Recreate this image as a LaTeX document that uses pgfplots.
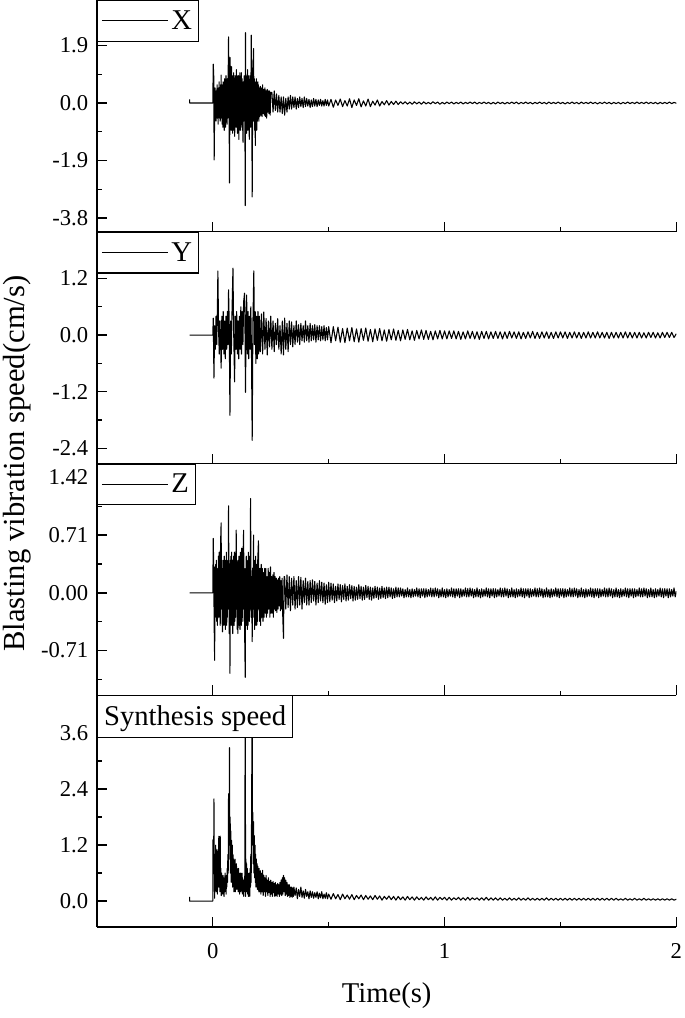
\documentclass[border=0pt]{standalone}
\usepackage{fontspec}
\setmainfont{Liberation Serif}
\usepackage{pgfplots}
\pgfplotsset{compat=1.18}

\pgfplotsset{
  panel/.style={
    width=435pt, height=174pt, scale only axis,
    xmin=-0.5, xmax=2,
    axis x line*=bottom, axis y line*=left,
    axis line style={-, line width=1pt},
    tick align=inside,
    major tick length=7.5pt, minor tick length=3.5pt,
    every tick/.append style={black, line width=1pt},
    xtick={0,1,2}, minor xtick={0.5,1.5}, xticklabels={},
    tick label style={font=\fontsize{17}{20}\selectfont},
    yticklabel style={xshift=-3pt},
    xticklabel style={yshift=-9pt},
    legend style={at={(0,1)}, anchor=north west, draw=black, line width=0.8pt,
      fill=white, font=\fontsize{21.5}{24}\selectfont, inner xsep=3pt, inner ysep=5.5pt},
    legend image code/.code={\draw[line width=0.6pt] (0pt,0pt) -- (50pt,0pt);},
  },
  sig/.style={black, line width=0.8pt, line join=round},
}

\begin{document}
\begin{tikzpicture}

% X
\begin{axis}[panel, name=p1, at={(0,522pt)},
  ymin=-4.25, ymax=3.4,
  ytick={-3.8,-1.9,0,1.9}, yticklabels={-3.8,-1.9,0.0,1.9},
  minor ytick={-2.85,-0.95,0.95,2.85}]
\addplot[sig] coordinates {
(-0.1,0.12)(-0.1,0)(0,0)(0.002,1.28)(0.004,0.9)(0.006,-1.88)(0.008,-0.3)
(0.0095,0.5)(0.011,-0.4)(0.0125,0.3)(0.014,-0.6)(0.0155,0.4)(0.017,-0.3)(0.0185,0.6)(0.020,-0.5)(0.0215,0.4)(0.023,-0.7)
(0.0245,0.5)(0.026,-0.3)(0.0275,0.7)(0.029,-0.5)(0.0305,0.4)(0.032,-0.6)(0.0335,0.6)(0.035,-0.4)(0.036,0.92)(0.0375,-0.5)
(0.039,0.6)(0.0405,-0.7)(0.042,0.5)(0.0435,-0.8)(0.045,0.7)(0.0465,-0.6)(0.048,0.5)(0.0495,-0.9)(0.051,0.8)(0.0525,-0.5)
(0.054,0.7)(0.0555,-0.8)(0.057,0.9)(0.0585,-0.6)(0.060,0.6)(0.0615,-0.7)(0.063,0.8)(0.0645,-0.5)(0.066,0.6)(0.068,2.18)
(0.070,0.4)(0.072,-2.64)(0.0735,-0.3)(0.075,1.5)(0.0765,-0.8)(0.078,1.0)(0.0795,-0.9)(0.081,1.2)(0.0825,-0.7)(0.084,0.9)
(0.0855,-1.0)(0.087,0.8)(0.0885,-0.7)(0.090,1.0)(0.0915,-0.9)(0.093,0.7)(0.0945,-1.1)(0.096,0.9)(0.0975,-0.6)(0.099,0.8)
(0.1005,-0.8)(0.102,1.1)(0.1035,-0.7)(0.105,0.9)(0.1065,-1.0)(0.108,0.7)(0.1095,-0.6)(0.111,0.9)(0.1125,-1.2)(0.114,0.8)
(0.1155,-0.7)(0.117,1.0)(0.1185,-0.9)(0.120,0.7)(0.1215,-0.8)(0.123,1.0)(0.1245,-0.5)(0.126,0.8)(0.1275,-0.9)(0.129,0.6)
(0.1305,-1.3)(0.132,0.7)(0.1335,-0.6)(0.135,0.9)(0.1365,-0.5)(0.138,0.6)(0.140,-3.39)(0.141,2.32)(0.1425,-0.4)(0.144,0.9)
(0.1455,-1.0)(0.147,0.8)(0.1485,-0.7)(0.150,1.1)(0.1515,-0.9)(0.153,0.6)(0.1545,-0.8)(0.156,0.9)(0.1575,-1.2)(0.159,0.7)
(0.1605,-0.6)(0.162,0.9)(0.1635,-0.8)(0.166,2.24)(0.168,0.3)(0.170,-3.10)(0.1715,-0.5)(0.173,1.0)(0.176,1.80)(0.1775,-0.6)
(0.179,0.8)(0.1805,-0.9)(0.182,0.7)(0.1835,-1.4)(0.185,0.6)(0.1865,-0.7)(0.188,0.8)(0.1895,-0.9)(0.191,0.6)(0.1925,-0.6)
(0.194,0.7)(0.1955,-0.5)(0.197,0.6)(0.1985,-0.6)(0.200,0.5)
(0.2025,-0.45)(0.205,0.55)(0.2075,-0.4)(0.210,0.5)(0.2125,-0.45)(0.215,0.6)(0.2175,-0.35)(0.220,0.45)(0.2225,-0.4)(0.225,0.5)
(0.2275,-0.45)(0.230,0.4)(0.2325,-0.5)(0.235,0.45)(0.2375,-0.3)(0.240,0.4)(0.2425,-0.35)(0.245,0.4)(0.2475,-0.4)(0.250,0.35)
(0.255,0.35)(0.260,-0.3)(0.265,0.4)(0.270,-0.25)(0.275,0.3)(0.280,-0.3)(0.285,0.25)(0.290,-0.3)(0.295,0.2)(0.300,-0.35)
(0.305,0.2)(0.310,-0.4)(0.315,0.15)(0.320,-0.3)(0.325,0.2)(0.330,-0.2)(0.335,0.25)(0.340,-0.2)(0.345,0.2)(0.350,-0.15)
(0.355,0.2)(0.360,-0.2)(0.365,0.15)(0.370,-0.15)(0.375,0.2)(0.380,-0.12)(0.385,0.15)(0.390,-0.15)(0.395,0.2)(0.400,-0.12)
(0.405,0.15)(0.410,-0.1)(0.415,0.12)(0.420,-0.15)(0.425,0.1)(0.430,-0.12)(0.435,0.15)(0.440,-0.1)(0.445,0.12)(0.450,-0.12)
(0.455,0.1)(0.460,-0.08)(0.465,0.12)(0.470,-0.1)(0.475,0.08)(0.480,-0.1)(0.485,0.12)(0.490,-0.08)(0.495,0.1)(0.500,-0.1)
(0.51,0.12)(0.52,-0.14)(0.53,0.1)(0.54,-0.08)(0.55,0.13)(0.56,-0.12)(0.57,0.08)(0.58,-0.1)(0.59,0.14)(0.60,-0.15)
(0.61,0.1)(0.62,-0.08)(0.63,0.14)(0.64,-0.13)(0.65,0.07)(0.66,-0.1)(0.67,0.13)(0.68,-0.12)(0.69,0.06)(0.70,-0.07)
(0.71,0.1)(0.72,-0.1)(0.73,0.05)(0.74,-0.06)(0.75,0.08)(0.76,-0.07)(0.77,0.05)(0.78,-0.05)(0.79,0.06)(0.80,-0.05)
(0.81,0.04)(0.82,-0.03)(0.83,0.04)(0.84,-0.04)(0.85,0.03)(0.86,-0.04)(0.87,0.04)(0.88,-0.03)(0.89,0.03)(0.90,-0.04)
(0.91,0.04)(0.92,-0.03)(0.93,0.02)(0.94,-0.03)(0.95,0.04)(0.96,-0.02)(0.97,0.03)(0.98,-0.04)(0.99,0.02)(1.00,-0.03)
(1.01,0.03)(1.02,-0.02)(1.03,0.03)(1.04,-0.03)(1.05,0.02)(1.06,-0.02)(1.07,0.03)(1.08,-0.03)(1.09,0.02)(1.10,-0.02)
(1.11,0.03)(1.12,-0.02)(1.13,0.03)(1.14,-0.03)(1.15,0.02)(1.16,-0.02)(1.17,0.03)(1.18,-0.02)(1.19,0.02)(1.20,-0.03)
(1.21,0.02)(1.22,-0.03)(1.23,0.03)(1.24,-0.02)(1.25,0.02)(1.26,-0.03)(1.27,0.02)(1.28,-0.02)(1.29,0.03)(1.30,-0.02)
(1.31,0.03)(1.32,-0.03)(1.33,0.02)(1.34,-0.02)(1.35,0.03)(1.36,-0.02)(1.37,0.02)(1.38,-0.03)(1.39,0.02)(1.40,-0.02)
(1.41,0.03)(1.42,-0.02)(1.43,0.02)(1.44,-0.03)(1.45,0.03)(1.46,-0.02)(1.47,0.02)(1.48,-0.02)(1.49,0.03)(1.50,-0.02)
(1.51,0.02)(1.52,-0.03)(1.53,0.02)(1.54,-0.02)(1.55,0.03)(1.56,-0.02)(1.57,0.02)(1.58,-0.03)(1.59,0.03)(1.60,-0.02)
(1.61,0.02)(1.62,-0.02)(1.63,0.03)(1.64,-0.02)(1.65,0.02)(1.66,-0.03)(1.67,0.02)(1.68,-0.02)(1.69,0.03)(1.70,-0.02)
(1.71,0.02)(1.72,-0.03)(1.73,0.02)(1.74,-0.02)(1.75,0.02)(1.76,-0.03)(1.77,0.02)(1.78,-0.02)(1.79,0.03)(1.80,-0.02)
(1.81,0.02)(1.82,-0.02)(1.83,0.03)(1.84,-0.02)(1.85,0.02)(1.86,-0.02)(1.87,0.03)(1.88,-0.02)(1.89,0.02)(1.90,-0.02)
(1.91,0.02)(1.92,-0.03)(1.93,0.02)(1.94,-0.02)(1.95,0.02)(1.96,-0.02)(1.97,0.03)(1.98,-0.02)(1.99,0.02)(2.00,-0.01)
};
\addlegendentry{X}
\end{axis}

% Y
\begin{axis}[panel, name=p2, at={(0,348pt)},
  ymin=-2.72, ymax=2.19,
  ytick={-2.4,-1.2,0,1.2}, yticklabels={-2.4,-1.2,0.0,1.2},
  minor ytick={-1.8,-0.6,0.6,1.8}]
\addplot[sig] coordinates {
(-0.1,0)(0,0)(0.002,0.36)(0.005,-0.91)(0.008,0.2)(0.011,-0.3)(0.014,0.4)(0.017,-0.2)(0.020,0.6)(0.022,1.36)
(0.025,0.1)(0.028,-0.4)(0.031,0.3)(0.034,-0.2)(0.036,-0.70)(0.039,0.4)(0.042,-0.3)(0.045,0.5)(0.048,-0.4)(0.051,0.3)
(0.054,-0.5)(0.057,0.4)(0.060,-0.3)(0.063,0.5)(0.066,-0.2)(0.068,0.96)(0.071,0.2)(0.074,-1.70)(0.077,0.3)(0.080,-0.4)
(0.083,0.5)(0.087,1.42)(0.090,0.1)(0.094,-0.99)(0.097,0.4)(0.100,-0.3)(0.103,0.5)(0.106,-0.4)(0.109,0.3)(0.112,-0.5)
(0.115,0.4)(0.118,-0.3)(0.121,0.6)(0.124,-0.4)(0.127,0.5)(0.130,-0.2)(0.133,0.7)(0.137,0.89)(0.139,0.1)(0.141,-1.21)
(0.144,0.3)(0.146,0.85)(0.149,-0.4)(0.152,0.5)(0.155,-0.5)(0.158,0.4)(0.161,-0.3)(0.164,0.6)(0.167,-0.4)(0.170,-2.23)
(0.173,0.2)(0.177,1.36)(0.180,-0.2)(0.183,0.5)(0.186,-0.6)(0.189,0.4)(0.192,-0.5)(0.195,0.5)(0.198,-0.4)(0.201,0.4)
(0.205,-0.35)(0.210,0.45)(0.215,-0.4)(0.220,0.49)(0.225,-0.3)(0.230,0.35)(0.235,-0.42)(0.240,0.3)(0.245,-0.25)(0.250,0.4)
(0.255,-0.3)(0.260,0.3)(0.265,-0.35)(0.270,0.25)(0.275,-0.2)(0.280,0.35)(0.285,-0.3)(0.290,0.2)(0.295,-0.4)(0.300,0.3)
(0.305,-0.42)(0.310,0.36)(0.315,-0.3)(0.320,0.25)(0.325,-0.35)(0.330,0.3)(0.335,-0.2)(0.340,0.28)(0.345,-0.25)(0.350,0.2)
(0.355,-0.2)(0.360,0.3)(0.365,-0.15)(0.370,0.22)(0.375,-0.2)(0.380,0.25)(0.385,-0.12)(0.390,0.2)(0.395,-0.15)(0.400,0.3)
(0.405,-0.12)(0.410,0.2)(0.415,-0.15)(0.420,0.25)(0.425,-0.12)(0.430,0.2)(0.435,-0.1)(0.440,0.22)(0.445,-0.15)(0.450,0.2)
(0.455,-0.1)(0.460,0.2)(0.465,-0.12)(0.470,0.18)(0.475,-0.1)(0.480,0.2)(0.485,-0.12)(0.490,0.16)(0.495,-0.1)(0.500,0.18)
(0.51,-0.16)(0.52,0.18)(0.53,-0.12)(0.54,0.17)(0.55,-0.15)(0.56,0.14)(0.57,-0.16)(0.58,0.15)(0.59,-0.12)(0.60,0.16)
(0.61,-0.14)(0.62,0.13)(0.63,-0.15)(0.64,0.14)(0.65,-0.11)(0.66,0.15)(0.67,-0.13)(0.68,0.12)(0.69,-0.14)(0.70,0.13)
(0.71,-0.11)(0.72,0.14)(0.73,-0.12)(0.74,0.11)(0.75,-0.13)(0.76,0.12)(0.77,-0.10)(0.78,0.13)(0.79,-0.11)(0.80,0.10)
(0.81,-0.12)(0.82,0.11)(0.83,-0.09)(0.84,0.12)(0.85,-0.10)(0.86,0.09)(0.87,-0.11)(0.88,0.10)(0.89,-0.08)(0.90,0.11)
(0.91,-0.09)(0.92,0.10)(0.93,-0.09)(0.94,0.08)(0.95,-0.10)(0.96,0.09)(0.97,-0.08)(0.98,0.10)(0.99,-0.08)(1.00,0.09)
(1.01,-0.08)(1.02,0.09)(1.03,-0.07)(1.04,0.09)(1.05,-0.08)(1.06,0.08)(1.07,-0.09)(1.08,0.07)(1.09,-0.08)(1.10,0.09)
(1.11,-0.07)(1.12,0.08)(1.13,-0.08)(1.14,0.07)(1.15,-0.09)(1.16,0.08)(1.17,-0.07)(1.18,0.08)(1.19,-0.08)(1.20,0.07)
(1.21,-0.07)(1.22,0.08)(1.23,-0.07)(1.24,0.07)(1.25,-0.08)(1.26,0.07)(1.27,-0.07)(1.28,0.08)(1.29,-0.06)(1.30,0.07)
(1.31,-0.07)(1.32,0.07)(1.33,-0.08)(1.34,0.06)(1.35,-0.07)(1.36,0.07)(1.37,-0.06)(1.38,0.08)(1.39,-0.07)(1.40,0.06)
(1.41,-0.07)(1.42,0.07)(1.43,-0.06)(1.44,0.07)(1.45,-0.07)(1.46,0.06)(1.47,-0.07)(1.48,0.07)(1.49,-0.06)(1.50,0.07)
(1.51,-0.06)(1.52,0.07)(1.53,-0.07)(1.54,0.06)(1.55,-0.06)(1.56,0.07)(1.57,-0.06)(1.58,0.06)(1.59,-0.07)(1.60,0.06)
(1.61,-0.06)(1.62,0.07)(1.63,-0.06)(1.64,0.06)(1.65,-0.06)(1.66,0.07)(1.67,-0.06)(1.68,0.06)(1.69,-0.06)(1.70,0.06)
(1.71,-0.07)(1.72,0.06)(1.73,-0.06)(1.74,0.06)(1.75,-0.06)(1.76,0.06)(1.77,-0.06)(1.78,0.07)(1.79,-0.06)(1.80,0.06)
(1.81,-0.06)(1.82,0.06)(1.83,-0.06)(1.84,0.06)(1.85,-0.06)(1.86,0.05)(1.87,-0.06)(1.88,0.06)(1.89,-0.05)(1.90,0.06)
(1.91,-0.06)(1.92,0.05)(1.93,-0.06)(1.94,0.06)(1.95,-0.05)(1.96,0.06)(1.97,-0.05)(1.98,0.06)(1.99,-0.05)(2.00,0.03)
};
\addlegendentry{Y}
\end{axis}

% Z
\begin{axis}[panel, name=p3, at={(0,174pt)},
  ymin=-1.26, ymax=1.59,
  ytick={-0.71,0,0.71,1.42}, yticklabels={-0.71,0.00,0.71,1.42},
  minor ytick={-1.065,-0.355,0.355,1.065}]
\addplot[sig] coordinates {
(-0.1,0)(0,0)(0.002,0.67)(0.004,0.3)(0.006,-0.4)(0.008,-0.83)(0.0095,0.32)
(0.011,-0.3)(0.0125,0.35)(0.014,-0.2)(0.0155,0.4)(0.017,-0.35)(0.0185,0.25)(0.020,-0.4)(0.0215,0.3)(0.023,-0.25)(0.0245,0.45)
(0.026,-0.3)(0.0275,0.5)(0.029,-0.2)(0.0305,0.35)(0.032,-0.4)(0.0335,0.6)(0.036,0.86)(0.0375,-0.2)(0.039,0.3)(0.0405,-0.35)
(0.042,-0.48)(0.0435,0.4)(0.045,-0.3)(0.0465,0.35)(0.048,-0.4)(0.0495,0.45)(0.051,-0.3)(0.0525,0.3)(0.054,-0.45)(0.0555,0.4)
(0.057,-0.3)(0.0585,0.5)(0.060,-0.4)(0.0615,0.35)(0.063,-0.3)(0.0645,0.4)(0.066,-0.2)(0.068,1.07)(0.0695,0.1)(0.071,-0.5)
(0.0725,0.3)(0.074,-0.99)(0.0755,0.4)(0.077,-0.3)(0.0785,0.45)(0.080,-0.4)(0.0815,0.5)(0.083,-0.35)(0.0845,0.4)(0.086,-0.5)
(0.0875,0.35)(0.089,-0.3)(0.0905,0.45)(0.092,-0.4)(0.0935,0.5)(0.095,-0.35)(0.0965,0.4)(0.098,-0.3)(0.101,0.77)(0.1025,-0.2)
(0.104,0.4)(0.1055,-0.45)(0.107,0.35)(0.1085,-0.5)(0.110,0.4)(0.1115,-0.35)(0.113,0.45)(0.1145,-0.4)(0.116,0.3)(0.1175,-0.45)
(0.119,0.5)(0.1205,-0.3)(0.122,0.4)(0.1235,-0.4)(0.125,0.55)(0.1265,-0.3)(0.128,0.4)(0.1295,-0.35)(0.131,0.5)(0.133,0.77)
(0.1345,-0.2)(0.136,0.3)(0.1375,-0.5)(0.140,-1.04)(0.1415,0.3)(0.143,-0.3)(0.1445,0.45)(0.146,-0.4)(0.1475,0.4)(0.149,-0.45)
(0.1505,0.35)(0.152,-0.4)(0.1535,0.5)(0.155,-0.3)(0.1565,0.4)(0.158,-0.35)(0.1595,0.45)(0.161,-0.2)(0.163,1.16)(0.1645,0.2)
(0.166,-0.3)(0.1675,0.2)(0.170,-0.60)(0.1715,0.3)(0.173,-0.2)(0.176,0.71)(0.1775,-0.3)(0.179,0.4)(0.1805,-0.45)(0.182,0.35)
(0.1835,-0.4)(0.185,0.45)(0.1865,-0.3)(0.188,0.35)(0.1895,-0.4)(0.191,0.3)(0.1925,-0.35)(0.194,0.4)(0.197,0.64)(0.1985,-0.2)
(0.200,0.3)(0.2015,-0.35)
(0.204,0.3)(0.2065,-0.4)(0.209,0.35)(0.2115,-0.3)(0.214,0.3)(0.2165,-0.35)(0.219,0.25)(0.2215,-0.3)(0.224,0.3)(0.2265,-0.25)
(0.229,0.3)(0.2315,-0.3)(0.234,0.2)(0.2365,-0.25)(0.239,0.3)(0.2415,-0.2)(0.244,0.25)(0.2465,-0.3)(0.249,0.32)(0.2515,-0.25)
(0.254,0.2)(0.2565,-0.25)(0.259,0.22)(0.2615,-0.3)(0.264,0.25)(0.2665,-0.2)(0.269,0.2)(0.2715,-0.22)(0.274,0.18)(0.2765,-0.24)
(0.279,0.16)(0.2815,-0.2)(0.284,0.18)(0.2865,-0.16)(0.289,0.2)(0.2915,-0.22)(0.294,0.15)(0.2965,-0.2)(0.299,0.18)(0.3015,-0.25)
(0.305,-0.56)(0.3075,0.2)
(0.310,0.2)(0.315,-0.2)(0.320,0.22)(0.325,-0.18)(0.330,0.2)(0.335,-0.22)(0.340,0.18)(0.345,-0.15)(0.350,0.2)
(0.355,-0.2)(0.360,0.15)(0.365,-0.18)(0.370,0.2)(0.375,-0.15)(0.380,0.19)(0.385,-0.2)(0.390,0.15)(0.395,-0.12)(0.400,0.18)
(0.405,-0.15)(0.410,0.14)(0.415,-0.15)(0.420,0.15)(0.425,-0.12)(0.430,0.16)(0.435,-0.1)(0.440,0.14)(0.445,-0.15)(0.450,0.12)
(0.455,-0.12)(0.460,0.15)(0.465,-0.1)(0.470,0.13)(0.475,-0.12)(0.480,0.12)(0.485,-0.14)(0.490,0.1)(0.495,-0.12)(0.500,0.13)
(0.505,-0.11)(0.510,0.12)(0.515,-0.09)(0.520,0.11)(0.525,-0.12)(0.530,0.08)(0.535,-0.10)(0.540,0.11)(0.545,-0.08)(0.550,0.10)
(0.555,-0.11)(0.560,0.09)(0.565,-0.08)(0.570,0.11)(0.575,-0.10)(0.580,0.08)(0.585,-0.09)(0.590,0.10)(0.595,-0.07)(0.600,0.09)
(0.605,-0.10)(0.610,0.08)(0.615,-0.09)(0.620,0.07)(0.625,-0.08)(0.630,0.10)(0.635,-0.07)(0.640,0.08)(0.645,-0.09)(0.650,0.07)
(0.655,-0.08)(0.660,0.09)(0.665,-0.06)(0.670,0.08)(0.675,-0.08)(0.680,0.07)(0.685,-0.09)(0.690,0.06)(0.695,-0.07)(0.700,0.08)
(0.705,-0.06)(0.710,0.07)(0.715,-0.08)(0.720,0.06)(0.725,-0.07)(0.730,0.08)(0.735,-0.06)(0.740,0.06)(0.745,-0.07)(0.750,0.07)
(0.755,-0.06)(0.760,0.07)(0.765,-0.05)(0.770,0.06)(0.775,-0.07)(0.780,0.05)(0.785,-0.06)(0.790,0.07)(0.795,-0.05)(0.800,0.06)
(0.805,-0.05)(0.810,0.06)(0.815,-0.04)(0.820,0.05)(0.825,-0.06)(0.830,0.04)(0.835,-0.05)(0.840,0.06)(0.845,-0.05)(0.850,0.04)
(0.855,-0.06)(0.860,0.05)(0.865,-0.05)(0.870,0.04)(0.875,-0.04)(0.880,0.06)(0.885,-0.05)(0.890,0.05)(0.895,-0.06)(0.900,0.05)
(0.905,-0.04)(0.910,0.05)(0.915,-0.06)(0.920,0.05)(0.925,-0.05)(0.930,0.04)(0.935,-0.04)(0.940,0.06)(0.945,-0.05)(0.950,0.05)
(0.955,-0.05)(0.960,0.06)(0.965,-0.04)(0.970,0.05)(0.975,-0.06)(0.980,0.04)(0.985,-0.05)(0.990,0.06)(0.995,-0.05)(1.000,0.04)
(1.005,-0.06)(1.010,0.05)(1.015,-0.05)(1.020,0.04)(1.025,-0.04)(1.030,0.06)(1.035,-0.05)(1.040,0.05)(1.045,-0.06)(1.050,0.05)
(1.055,-0.04)(1.060,0.05)(1.065,-0.06)(1.070,0.05)(1.075,-0.05)(1.080,0.04)(1.085,-0.04)(1.090,0.06)(1.095,-0.05)(1.100,0.05)
(1.105,-0.05)(1.110,0.06)(1.115,-0.04)(1.120,0.05)(1.125,-0.06)(1.130,0.04)(1.135,-0.05)(1.140,0.06)(1.145,-0.05)(1.150,0.04)
(1.155,-0.06)(1.160,0.05)(1.165,-0.05)(1.170,0.04)(1.175,-0.04)(1.180,0.06)(1.185,-0.05)(1.190,0.05)(1.195,-0.06)(1.200,0.05)
(1.205,-0.04)(1.210,0.05)(1.215,-0.06)(1.220,0.05)(1.225,-0.05)(1.230,0.04)(1.235,-0.04)(1.240,0.06)(1.245,-0.05)(1.250,0.05)
(1.255,-0.05)(1.260,0.06)(1.265,-0.04)(1.270,0.05)(1.275,-0.06)(1.280,0.04)(1.285,-0.05)(1.290,0.06)(1.295,-0.05)(1.300,0.04)
(1.305,-0.06)(1.310,0.05)(1.315,-0.05)(1.320,0.04)(1.325,-0.04)(1.330,0.06)(1.335,-0.05)(1.340,0.05)(1.345,-0.06)(1.350,0.05)
(1.355,-0.04)(1.360,0.05)(1.365,-0.06)(1.370,0.05)(1.375,-0.05)(1.380,0.04)(1.385,-0.04)(1.390,0.06)(1.395,-0.05)(1.400,0.05)
(1.405,-0.05)(1.410,0.06)(1.415,-0.04)(1.420,0.05)(1.425,-0.06)(1.430,0.04)(1.435,-0.05)(1.440,0.06)(1.445,-0.05)(1.450,0.04)
(1.455,-0.06)(1.460,0.05)(1.465,-0.05)(1.470,0.04)(1.475,-0.04)(1.480,0.06)(1.485,-0.05)(1.490,0.05)(1.495,-0.06)(1.500,0.05)
(1.505,-0.04)(1.510,0.05)(1.515,-0.06)(1.520,0.05)(1.525,-0.05)(1.530,0.04)(1.535,-0.04)(1.540,0.06)(1.545,-0.05)(1.550,0.05)
(1.555,-0.05)(1.560,0.06)(1.565,-0.04)(1.570,0.05)(1.575,-0.06)(1.580,0.04)(1.585,-0.05)(1.590,0.06)(1.595,-0.05)(1.600,0.04)
(1.605,-0.06)(1.610,0.05)(1.615,-0.05)(1.620,0.04)(1.625,-0.04)(1.630,0.06)(1.635,-0.05)(1.640,0.05)(1.645,-0.06)(1.650,0.05)
(1.655,-0.04)(1.660,0.05)(1.665,-0.06)(1.670,0.05)(1.675,-0.05)(1.680,0.04)(1.685,-0.04)(1.690,0.06)(1.695,-0.05)(1.700,0.05)
(1.705,-0.05)(1.710,0.06)(1.715,-0.04)(1.720,0.05)(1.725,-0.06)(1.730,0.04)(1.735,-0.05)(1.740,0.06)(1.745,-0.05)(1.750,0.04)
(1.755,-0.06)(1.760,0.05)(1.765,-0.05)(1.770,0.04)(1.775,-0.04)(1.780,0.06)(1.785,-0.05)(1.790,0.05)(1.795,-0.06)(1.800,0.05)
(1.805,-0.04)(1.810,0.05)(1.815,-0.06)(1.820,0.05)(1.825,-0.05)(1.830,0.04)(1.835,-0.04)(1.840,0.06)(1.845,-0.05)(1.850,0.05)
(1.855,-0.05)(1.860,0.06)(1.865,-0.04)(1.870,0.05)(1.875,-0.06)(1.880,0.04)(1.885,-0.05)(1.890,0.06)(1.895,-0.05)(1.900,0.04)
(1.905,-0.06)(1.910,0.05)(1.915,-0.05)(1.920,0.04)(1.925,-0.04)(1.930,0.06)(1.935,-0.05)(1.940,0.05)(1.945,-0.06)(1.950,0.05)
(1.955,-0.04)(1.960,0.05)(1.965,-0.06)(1.970,0.05)(1.975,-0.05)(1.980,0.04)(1.985,-0.04)(1.990,0.06)(1.995,-0.05)(2.000,0.02)
};
\addlegendentry{Z}
\end{axis}

% Synthesis speed
\begin{axis}[panel, name=p4, at={(0,0pt)},
  ymin=-0.557, ymax=4.41,
  ytick={0,1.2,2.4,3.6}, yticklabels={0.0,1.2,2.4,3.6},
  minor ytick={0.6,1.8,3.0,4.2},
  xticklabels={0,1,2},
  xlabel={Time(s)},
  xlabel style={font=\fontsize{21.5}{24}\selectfont, at={(axis description cs:0.5,0)}, anchor=north, yshift=-38pt}]
\addplot[sig, forget plot] coordinates {
(-0.1,0.09)(-0.1,0)(0,0)(0,1.31)(0.002,0.8)(0.004,1.1)(0.005,2.19)(0.0065,0.5)(0.008,0.06)
(0.0095,1.0)(0.011,0.3)(0.0125,1.2)(0.014,0.2)(0.0155,0.9)(0.017,0.4)(0.0185,1.1)(0.020,0.15)(0.0215,0.8)(0.023,0.3)
(0.0245,1.0)(0.026,1.39)(0.0275,0.3)(0.029,0.9)(0.0305,0.2)(0.032,1.39)(0.0335,0.4)(0.035,0.7)(0.0365,0.12)(0.038,0.6)
(0.0395,0.2)(0.041,0.5)(0.0425,0.15)(0.044,0.55)(0.0455,0.25)(0.047,0.5)(0.0485,0.1)(0.050,0.45)(0.0515,0.2)(0.053,0.6)
(0.0545,0.3)(0.056,0.5)(0.0575,0.15)(0.059,0.55)(0.0605,0.3)(0.062,0.7)(0.0635,0.4)(0.065,1.0)(0.0665,0.6)(0.068,2.3)
(0.0695,1.2)(0.071,1.9)(0.072,3.29)(0.0735,0.9)(0.075,1.8)(0.0765,0.6)(0.078,1.5)(0.0795,0.4)(0.081,1.3)(0.0825,0.5)
(0.084,1.2)(0.0855,0.3)(0.087,1.0)(0.0885,0.4)(0.090,0.9)(0.0915,0.2)(0.093,0.8)(0.0945,0.35)(0.096,0.9)(0.0975,0.2)
(0.099,0.7)(0.1005,0.3)(0.102,0.8)(0.1035,0.25)(0.105,0.7)(0.1065,0.3)(0.108,0.6)(0.1095,0.2)(0.111,0.7)(0.1125,0.3)
(0.114,0.6)(0.1155,0.15)(0.117,0.55)(0.1185,0.3)(0.120,0.6)(0.1215,0.2)(0.123,0.5)(0.1245,0.3)(0.126,0.6)(0.1275,0.15)
(0.129,0.5)(0.1305,0.2)(0.132,0.45)(0.1335,0.1)(0.135,0.4)(0.1365,0.2)(0.138,0.5)(0.140,4.5)(0.1415,0.1)(0.143,0.9)
(0.1445,0.2)(0.146,0.8)(0.1475,0.3)(0.149,0.7)(0.1505,0.15)(0.152,0.6)(0.1535,0.1)(0.155,0.5)(0.1565,0.2)(0.158,0.6)
(0.1595,0.1)(0.161,0.7)(0.1625,0.3)(0.164,1.0)(0.1655,0.4)(0.167,1.5)(0.170,4.5)(0.1715,1.2)(0.173,1.9)(0.1745,0.8)
(0.176,1.7)(0.1775,0.6)(0.179,1.4)(0.1805,0.5)(0.182,1.2)(0.1835,0.4)(0.185,1.0)(0.1865,0.3)(0.188,0.9)(0.1895,0.35)
(0.191,0.8)(0.1925,0.25)(0.194,0.75)(0.1955,0.3)(0.197,0.7)(0.1985,0.2)(0.200,0.7)
(0.2025,0.2)(0.205,0.65)(0.2075,0.15)(0.210,0.6)(0.2125,0.2)(0.215,0.66)(0.2175,0.12)(0.220,0.55)(0.2225,0.2)(0.225,0.5)
(0.2275,0.1)(0.230,0.55)(0.2325,0.2)(0.235,0.45)(0.2375,0.12)(0.240,0.5)(0.2425,0.18)(0.245,0.42)(0.2475,0.1)(0.250,0.45)
(0.2525,0.15)(0.255,0.4)(0.2575,0.1)(0.260,0.42)(0.2625,0.18)(0.265,0.38)(0.2675,0.1)(0.270,0.4)(0.2725,0.12)(0.275,0.35)
(0.2775,0.1)(0.280,0.38)(0.2825,0.15)(0.285,0.35)(0.2875,0.1)(0.290,0.4)(0.2925,0.15)(0.295,0.45)(0.2975,0.12)(0.300,0.5)
(0.3025,0.15)(0.305,0.55)(0.3075,0.2)(0.310,0.5)(0.3125,0.12)(0.315,0.45)(0.3175,0.15)(0.320,0.4)(0.3225,0.1)(0.325,0.35)
(0.3275,0.12)(0.330,0.35)(0.3325,0.08)(0.335,0.3)(0.3375,0.1)(0.340,0.3)(0.3425,0.08)(0.345,0.28)(0.3475,0.1)(0.350,0.3)
(0.355,0.12)(0.360,0.28)(0.365,0.05)(0.370,0.25)(0.375,0.1)(0.380,0.3)(0.385,0.08)(0.390,0.22)(0.395,0.06)(0.400,0.25)
(0.405,0.1)(0.410,0.2)(0.415,0.05)(0.420,0.22)(0.425,0.08)(0.430,0.2)(0.435,0.06)(0.440,0.18)(0.445,0.08)(0.450,0.2)
(0.455,0.05)(0.460,0.17)(0.465,0.07)(0.470,0.2)(0.475,0.05)(0.480,0.15)(0.485,0.06)(0.490,0.18)(0.495,0.05)(0.500,0.15)
(0.51,0.04)(0.52,0.16)(0.53,0.05)(0.54,0.14)(0.55,0.03)(0.56,0.15)(0.57,0.05)(0.58,0.13)(0.59,0.04)(0.60,0.14)
(0.61,0.03)(0.62,0.12)(0.63,0.05)(0.64,0.13)(0.65,0.03)(0.66,0.12)(0.67,0.04)(0.68,0.11)(0.69,0.03)(0.70,0.12)
(0.71,0.04)(0.72,0.11)(0.73,0.02)(0.74,0.10)(0.75,0.04)(0.76,0.11)(0.77,0.03)(0.78,0.10)(0.79,0.02)(0.80,0.10)
(0.81,0.03)(0.82,0.09)(0.83,0.02)(0.84,0.10)(0.85,0.03)(0.86,0.09)(0.87,0.02)(0.88,0.09)(0.89,0.03)(0.90,0.08)
(0.91,0.02)(0.92,0.09)(0.93,0.03)(0.94,0.08)(0.95,0.02)(0.96,0.09)(0.97,0.02)(0.98,0.08)(0.99,0.03)(1.00,0.08)
(1.01,0.02)(1.02,0.08)(1.03,0.02)(1.04,0.07)(1.05,0.03)(1.06,0.08)(1.07,0.02)(1.08,0.07)(1.09,0.02)(1.10,0.08)
(1.11,0.02)(1.12,0.07)(1.13,0.03)(1.14,0.07)(1.15,0.02)(1.16,0.07)(1.17,0.02)(1.18,0.08)(1.19,0.02)(1.20,0.07)
(1.21,0.02)(1.22,0.07)(1.23,0.02)(1.24,0.07)(1.25,0.02)(1.26,0.06)(1.27,0.02)(1.28,0.07)(1.29,0.02)(1.30,0.06)
(1.31,0.02)(1.32,0.07)(1.33,0.02)(1.34,0.06)(1.35,0.02)(1.36,0.07)(1.37,0.02)(1.38,0.06)(1.39,0.02)(1.40,0.06)
(1.41,0.02)(1.42,0.06)(1.43,0.02)(1.44,0.07)(1.45,0.02)(1.46,0.06)(1.47,0.02)(1.48,0.06)(1.49,0.02)(1.50,0.06)
(1.51,0.02)(1.52,0.06)(1.53,0.02)(1.54,0.06)(1.55,0.02)(1.56,0.06)(1.57,0.02)(1.58,0.06)(1.59,0.02)(1.60,0.06)
(1.61,0.02)(1.62,0.06)(1.63,0.02)(1.64,0.06)(1.65,0.02)(1.66,0.06)(1.67,0.02)(1.68,0.06)(1.69,0.02)(1.70,0.06)
(1.71,0.02)(1.72,0.06)(1.73,0.02)(1.74,0.06)(1.75,0.02)(1.76,0.05)(1.77,0.02)(1.78,0.06)(1.79,0.02)(1.80,0.05)
(1.81,0.02)(1.82,0.06)(1.83,0.02)(1.84,0.05)(1.85,0.02)(1.86,0.06)(1.87,0.02)(1.88,0.05)(1.89,0.02)(1.90,0.05)
(1.91,0.02)(1.92,0.05)(1.93,0.02)(1.94,0.05)(1.95,0.02)(1.96,0.05)(1.97,0.02)(1.98,0.05)(1.99,0.02)(2.00,0.04)
};
\addlegendimage{empty legend}
\addlegendentry{Synthesis speed}
\end{axis}

\node[rotate=90, font=\fontsize{23}{26}\selectfont] at ([xshift=-60pt]p2.south west) {Blasting vibration speed(cm/s)};

\pgfresetboundingbox
\useasboundingbox (-72.75pt,-68.25pt) rectangle (441pt,696pt);

\end{tikzpicture}
\end{document}
